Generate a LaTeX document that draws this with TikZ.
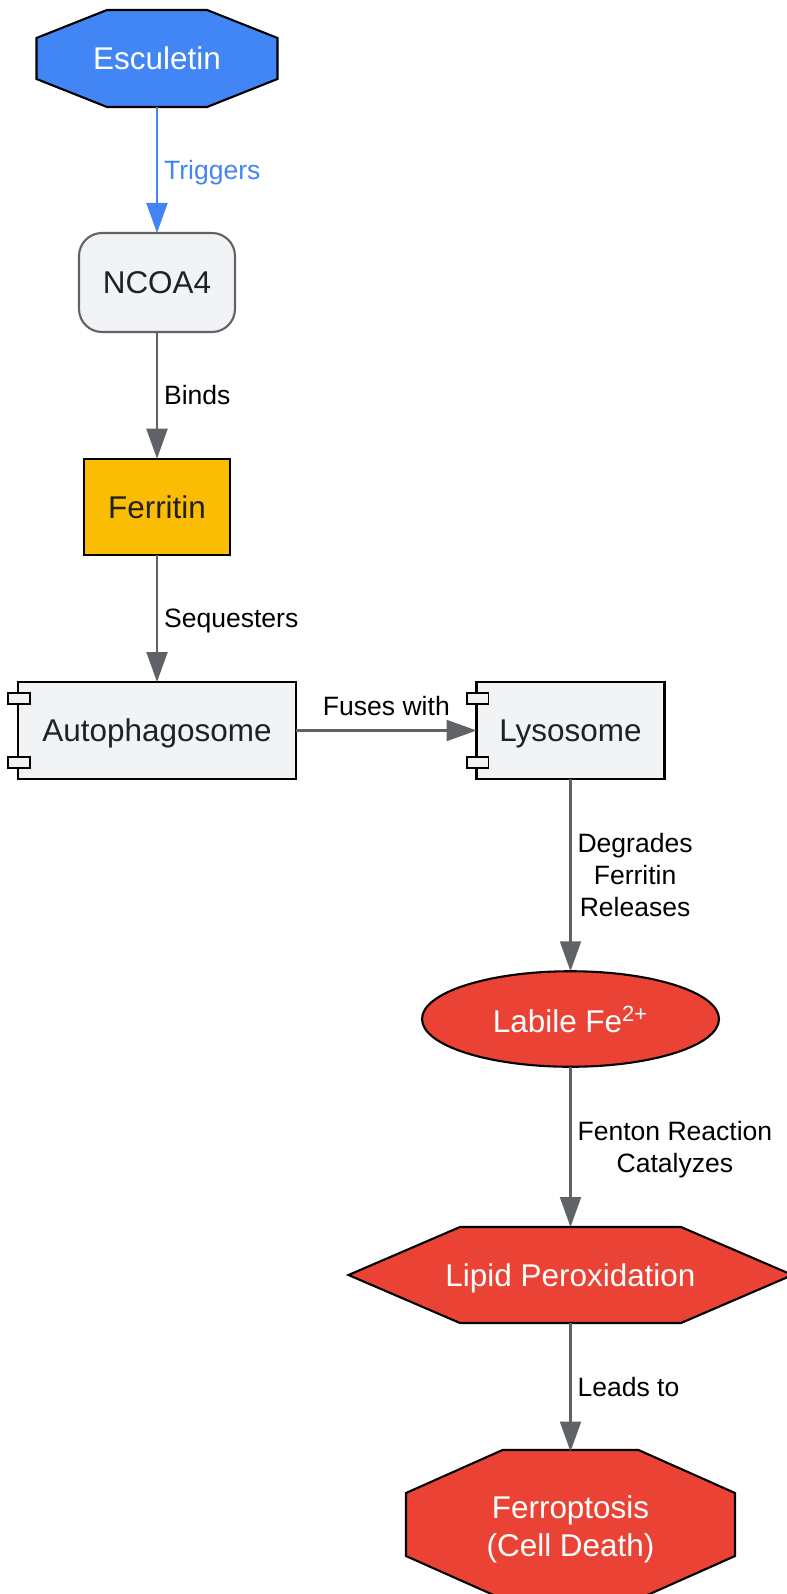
\documentclass[tikz,border=0pt]{standalone}
\usepackage{fontspec}
\setmainfont{Liberation Sans}
\usetikzlibrary{calc,arrows.meta,shapes.geometric}

\definecolor{gblue}{HTML}{4285F4}
\definecolor{gred}{HTML}{EA4335}
\definecolor{gyellow}{HTML}{FBBC04}
\definecolor{gfill}{HTML}{F1F3F4}
\definecolor{gline}{HTML}{5F6368}
\definecolor{gtext}{HTML}{202124}

\begin{document}
\begin{tikzpicture}[
	box/.style={inner sep=0pt,outer sep=0pt,align=center,text depth=0pt,font=\fontsize{17.9}{21.4}\selectfont},
	flow/.style={draw=gline,line width=1.2pt,-{Triangle[length=0.6cm,width=0.42cm]}},
	lbl/.style={font=\fontsize{15.1}{18.2}\selectfont,inner sep=0.12cm,align=center,text depth=0pt,text=black},
	port/.style={draw=black,fill=gfill,line width=1.1pt}]
			\useasboundingbox (0,0) rectangle (15.72,-31.88);
			% shapes behind the nodes
			\draw[line width=1.2pt,fill=gblue] (0.73,-0.76) -- (2.14,-0.2) -- (4.14,-0.2) -- (5.55,-0.76) -- (5.55,-1.58) -- (4.14,-2.14) -- (2.14,-2.14) -- (0.73,-1.58) -- cycle;
			\draw[line width=1.2pt,fill=gred] (6.97,-25.5) -- (9.2,-24.54) -- (13.62,-24.54) -- (15.85,-25.5) -- (13.62,-26.46) -- (9.2,-26.46) -- cycle;
			\draw[line width=1.2pt,fill=gred] (8.12,-29.86) -- (10.05,-29.0) -- (12.77,-29.0) -- (14.7,-29.86) -- (14.7,-31.12) -- (12.77,-31.98) -- (10.05,-31.98) -- (8.12,-31.12) -- cycle;
			% nodes
			\node[box,text=white,minimum width=4.82cm,minimum height=1.94cm] (esc) at (3.14,-1.17) {Esculetin};
			\node[box,draw=gline,fill=gfill,rounded corners=0.46cm,line width=1.2pt,text=gtext,minimum width=3.12cm,minimum height=1.98cm] (ncoa) at (3.14,-5.65) {NCOA4};
			\node[box,draw=black,fill=gyellow,line width=1.2pt,text=gtext,minimum width=2.91cm,minimum height=1.93cm] (ferr) at (3.14,-10.14) {Ferritin};
			\node[box,draw=black,fill=gfill,line width=1.2pt,text=gtext,minimum width=5.57cm,minimum height=1.94cm] (auto) at (3.14,-14.61) {Autophagosome};
			\node[box,draw=black,fill=gfill,line width=1.2pt,text=gtext,minimum width=3.76cm,minimum height=1.94cm] (lyso) at (11.41,-14.61) {Lysosome};
			\node[box,ellipse,draw=black,fill=gred,line width=1.2pt,text=white,minimum width=5.94cm,minimum height=1.91cm] (fe) at (11.41,-20.38) {Labile Fe\textsuperscript{2+}};
			\node[box,text=white,minimum width=4.42cm,minimum height=1.92cm] (lipid) at (11.41,-25.5) {Lipid Peroxidation};
			\node[box,text=white,minimum width=2.72cm,minimum height=2.98cm] (death) at (11.41,-30.52) {Ferroptosis\\(Cell Death)};
			% component ports
			\foreach \n in {auto,lyso}{
				\draw[port] ($(\n.north west)+(-0.19,-0.22)$) rectangle ++(0.43,-0.22);
				\draw[port] ($(\n.south west)+(-0.19,0.22)$) rectangle ++(0.43,0.22);
			}
			% connectors
			\draw[flow,draw=gblue] (esc) -- node[lbl,right,text=gblue] {Triggers} (ncoa);
			\draw[flow] (ncoa) -- node[lbl,right] {Binds} (ferr);
			\draw[flow] (ferr) -- node[lbl,right] {Sequesters} (auto);
			\draw[flow] (auto) -- node[lbl,above,yshift=0.16cm] {Fuses with} (lyso);
			\draw[flow] (lyso) -- node[lbl,right] {Degrades\\Ferritin\\Releases} (fe);
			\draw[flow] (fe) -- node[lbl,right] {Fenton Reaction\\Catalyzes} (lipid);
			\draw[flow] (lipid) -- node[lbl,right] {Leads to} (death);
		\end{tikzpicture}
\end{document}
